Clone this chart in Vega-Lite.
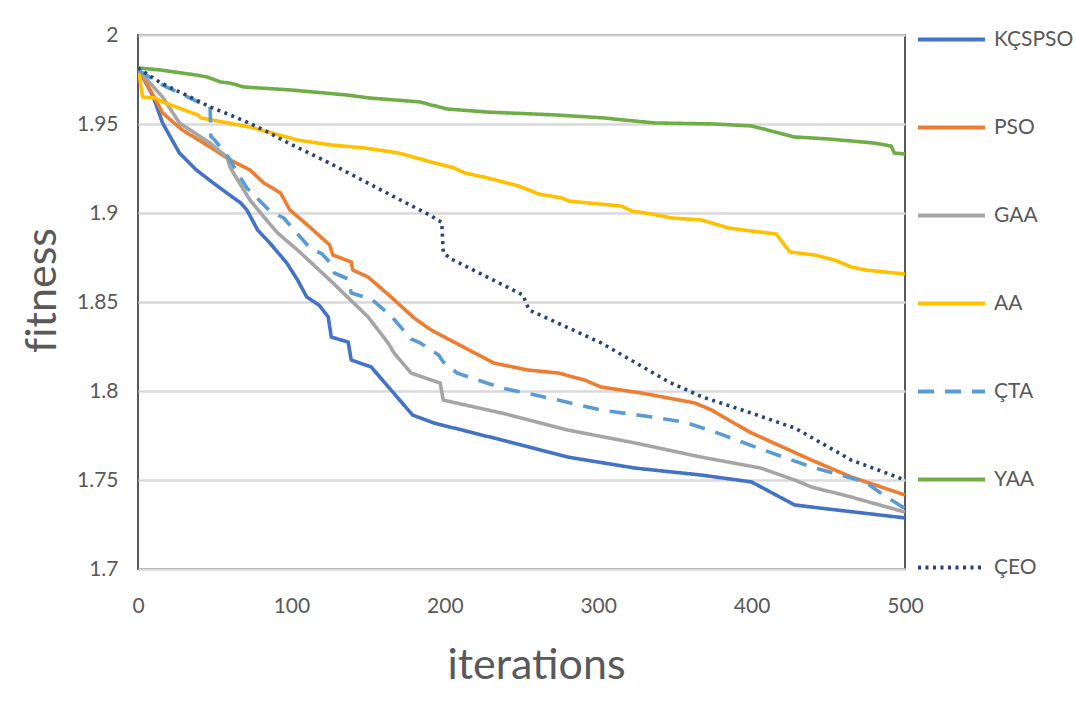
{
  "$schema": "https://vega.github.io/schema/vega-lite/v6.json",
  "width": 767,
  "height": 534,
  "autosize": {"type": "none"},
  "padding": {"left": 138, "top": 35, "right": 171, "bottom": 140},
  "background": "white",
  "config": {
    "font": "Lato",
    "view": {"stroke": "#595959", "strokeWidth": 2}
  },
  "datasets": {
    "curves": [
      {"s": "KÇSPSO", "x": 0, "y": 1.9815}, {"s": "KÇSPSO", "x": 10, "y": 1.9652}, {"s": "KÇSPSO", "x": 16, "y": 1.9506}, {"s": "KÇSPSO", "x": 27, "y": 1.9337}, {"s": "KÇSPSO", "x": 38, "y": 1.9242}, {"s": "KÇSPSO", "x": 49, "y": 1.9169}, {"s": "KÇSPSO", "x": 58, "y": 1.9112}, {"s": "KÇSPSO", "x": 67, "y": 1.9056}, {"s": "KÇSPSO", "x": 71, "y": 1.9017}, {"s": "KÇSPSO", "x": 78, "y": 1.8904}, {"s": "KÇSPSO", "x": 86, "y": 1.8831}, {"s": "KÇSPSO", "x": 97, "y": 1.8719}, {"s": "KÇSPSO", "x": 104, "y": 1.8624}, {"s": "KÇSPSO", "x": 110, "y": 1.8528}, {"s": "KÇSPSO", "x": 118, "y": 1.8483}, {"s": "KÇSPSO", "x": 124, "y": 1.8416}, {"s": "KÇSPSO", "x": 126, "y": 1.8303}, {"s": "KÇSPSO", "x": 137, "y": 1.8275}, {"s": "KÇSPSO", "x": 139, "y": 1.8174}, {"s": "KÇSPSO", "x": 152, "y": 1.8135}, {"s": "KÇSPSO", "x": 179, "y": 1.7865}, {"s": "KÇSPSO", "x": 193, "y": 1.782}, {"s": "KÇSPSO", "x": 237, "y": 1.7725}, {"s": "KÇSPSO", "x": 280, "y": 1.7629}, {"s": "KÇSPSO", "x": 324, "y": 1.7567}, {"s": "KÇSPSO", "x": 367, "y": 1.7528}, {"s": "KÇSPSO", "x": 400, "y": 1.7489}, {"s": "KÇSPSO", "x": 428, "y": 1.736}, {"s": "KÇSPSO", "x": 444, "y": 1.7343}, {"s": "KÇSPSO", "x": 500, "y": 1.7287},

      {"s": "PSO", "x": 0, "y": 1.9815}, {"s": "PSO", "x": 8, "y": 1.9691}, {"s": "PSO", "x": 16, "y": 1.9562}, {"s": "PSO", "x": 29, "y": 1.9466}, {"s": "PSO", "x": 47, "y": 1.9371}, {"s": "PSO", "x": 60, "y": 1.9298}, {"s": "PSO", "x": 73, "y": 1.9242}, {"s": "PSO", "x": 82, "y": 1.9169}, {"s": "PSO", "x": 93, "y": 1.9112}, {"s": "PSO", "x": 99, "y": 1.9017}, {"s": "PSO", "x": 112, "y": 1.8921}, {"s": "PSO", "x": 125, "y": 1.882}, {"s": "PSO", "x": 127, "y": 1.8764}, {"s": "PSO", "x": 139, "y": 1.8725}, {"s": "PSO", "x": 140, "y": 1.868}, {"s": "PSO", "x": 150, "y": 1.864}, {"s": "PSO", "x": 165, "y": 1.8528}, {"s": "PSO", "x": 180, "y": 1.841}, {"s": "PSO", "x": 191, "y": 1.8343}, {"s": "PSO", "x": 232, "y": 1.8157}, {"s": "PSO", "x": 254, "y": 1.8118}, {"s": "PSO", "x": 274, "y": 1.8101}, {"s": "PSO", "x": 291, "y": 1.8062}, {"s": "PSO", "x": 302, "y": 1.8022}, {"s": "PSO", "x": 328, "y": 1.7989}, {"s": "PSO", "x": 363, "y": 1.7933}, {"s": "PSO", "x": 374, "y": 1.7893}, {"s": "PSO", "x": 385, "y": 1.7837}, {"s": "PSO", "x": 400, "y": 1.7764}, {"s": "PSO", "x": 439, "y": 1.7612}, {"s": "PSO", "x": 465, "y": 1.7517}, {"s": "PSO", "x": 500, "y": 1.7416},

      {"s": "GAA", "x": 0, "y": 1.9815}, {"s": "GAA", "x": 3, "y": 1.9775}, {"s": "GAA", "x": 16, "y": 1.9652}, {"s": "GAA", "x": 27, "y": 1.9506}, {"s": "GAA", "x": 47, "y": 1.9393}, {"s": "GAA", "x": 58, "y": 1.9315}, {"s": "GAA", "x": 60, "y": 1.9258}, {"s": "GAA", "x": 65, "y": 1.9185}, {"s": "GAA", "x": 73, "y": 1.9073}, {"s": "GAA", "x": 82, "y": 1.8978}, {"s": "GAA", "x": 91, "y": 1.8888}, {"s": "GAA", "x": 104, "y": 1.8792}, {"s": "GAA", "x": 125, "y": 1.8624}, {"s": "GAA", "x": 150, "y": 1.8416}, {"s": "GAA", "x": 163, "y": 1.827}, {"s": "GAA", "x": 167, "y": 1.8213}, {"s": "GAA", "x": 178, "y": 1.8101}, {"s": "GAA", "x": 191, "y": 1.8062}, {"s": "GAA", "x": 197, "y": 1.8045}, {"s": "GAA", "x": 199, "y": 1.7949}, {"s": "GAA", "x": 237, "y": 1.7876}, {"s": "GAA", "x": 280, "y": 1.7781}, {"s": "GAA", "x": 324, "y": 1.7708}, {"s": "GAA", "x": 367, "y": 1.7629}, {"s": "GAA", "x": 406, "y": 1.7567}, {"s": "GAA", "x": 428, "y": 1.75}, {"s": "GAA", "x": 439, "y": 1.7461}, {"s": "GAA", "x": 465, "y": 1.7404}, {"s": "GAA", "x": 500, "y": 1.732},

      {"s": "AA", "x": 0, "y": 1.982}, {"s": "AA", "x": 3, "y": 1.9652}, {"s": "AA", "x": 11, "y": 1.9646}, {"s": "AA", "x": 16, "y": 1.9624}, {"s": "AA", "x": 39, "y": 1.9551}, {"s": "AA", "x": 41, "y": 1.9534}, {"s": "AA", "x": 73, "y": 1.9483}, {"s": "AA", "x": 104, "y": 1.941}, {"s": "AA", "x": 126, "y": 1.9382}, {"s": "AA", "x": 148, "y": 1.9365}, {"s": "AA", "x": 170, "y": 1.9337}, {"s": "AA", "x": 191, "y": 1.9287}, {"s": "AA", "x": 206, "y": 1.9253}, {"s": "AA", "x": 213, "y": 1.9225}, {"s": "AA", "x": 228, "y": 1.9197}, {"s": "AA", "x": 248, "y": 1.9152}, {"s": "AA", "x": 261, "y": 1.9107}, {"s": "AA", "x": 276, "y": 1.9085}, {"s": "AA", "x": 281, "y": 1.9067}, {"s": "AA", "x": 315, "y": 1.9039}, {"s": "AA", "x": 322, "y": 1.9011}, {"s": "AA", "x": 335, "y": 1.8994}, {"s": "AA", "x": 348, "y": 1.8972}, {"s": "AA", "x": 367, "y": 1.8961}, {"s": "AA", "x": 372, "y": 1.8949}, {"s": "AA", "x": 385, "y": 1.8916}, {"s": "AA", "x": 395, "y": 1.8904}, {"s": "AA", "x": 416, "y": 1.8882}, {"s": "AA", "x": 421, "y": 1.8826}, {"s": "AA", "x": 425, "y": 1.8781}, {"s": "AA", "x": 441, "y": 1.8764}, {"s": "AA", "x": 454, "y": 1.8736}, {"s": "AA", "x": 465, "y": 1.8697}, {"s": "AA", "x": 474, "y": 1.868}, {"s": "AA", "x": 500, "y": 1.8657},

      {"s": "ÇTA", "x": 0, "y": 1.9803}, {"s": "ÇTA", "x": 16, "y": 1.9719}, {"s": "ÇTA", "x": 39, "y": 1.9624}, {"s": "ÇTA", "x": 46, "y": 1.9607}, {"s": "ÇTA", "x": 47, "y": 1.959}, {"s": "ÇTA", "x": 47.5, "y": 1.943}, {"s": "ÇTA", "x": 50, "y": 1.941}, {"s": "ÇTA", "x": 60, "y": 1.93}, {"s": "ÇTA", "x": 64, "y": 1.9236}, {"s": "ÇTA", "x": 71, "y": 1.914}, {"s": "ÇTA", "x": 86, "y": 1.9011}, {"s": "ÇTA", "x": 95, "y": 1.8972}, {"s": "ÇTA", "x": 112, "y": 1.8804}, {"s": "ÇTA", "x": 120, "y": 1.877}, {"s": "ÇTA", "x": 126, "y": 1.8714}, {"s": "ÇTA", "x": 128, "y": 1.8663}, {"s": "ÇTA", "x": 137, "y": 1.8629}, {"s": "ÇTA", "x": 139, "y": 1.8551}, {"s": "ÇTA", "x": 152, "y": 1.8517}, {"s": "ÇTA", "x": 165, "y": 1.8422}, {"s": "ÇTA", "x": 178, "y": 1.8292}, {"s": "ÇTA", "x": 184, "y": 1.827}, {"s": "ÇTA", "x": 196, "y": 1.8202}, {"s": "ÇTA", "x": 199, "y": 1.8163}, {"s": "ÇTA", "x": 208, "y": 1.8101}, {"s": "ÇTA", "x": 237, "y": 1.8017}, {"s": "ÇTA", "x": 259, "y": 1.7978}, {"s": "ÇTA", "x": 302, "y": 1.7893}, {"s": "ÇTA", "x": 335, "y": 1.7854}, {"s": "ÇTA", "x": 356, "y": 1.7826}, {"s": "ÇTA", "x": 376, "y": 1.777}, {"s": "ÇTA", "x": 406, "y": 1.7674}, {"s": "ÇTA", "x": 439, "y": 1.7573}, {"s": "ÇTA", "x": 474, "y": 1.7489}, {"s": "ÇTA", "x": 487, "y": 1.741}, {"s": "ÇTA", "x": 500, "y": 1.734},

      {"s": "YAA", "x": 0, "y": 1.9815}, {"s": "YAA", "x": 15, "y": 1.9803}, {"s": "YAA", "x": 38, "y": 1.9775}, {"s": "YAA", "x": 45, "y": 1.9764}, {"s": "YAA", "x": 54, "y": 1.9736}, {"s": "YAA", "x": 60, "y": 1.973}, {"s": "YAA", "x": 69, "y": 1.9708}, {"s": "YAA", "x": 100, "y": 1.9691}, {"s": "YAA", "x": 136, "y": 1.9663}, {"s": "YAA", "x": 151, "y": 1.9646}, {"s": "YAA", "x": 184, "y": 1.9624}, {"s": "YAA", "x": 191, "y": 1.9607}, {"s": "YAA", "x": 202, "y": 1.9584}, {"s": "YAA", "x": 228, "y": 1.9567}, {"s": "YAA", "x": 272, "y": 1.9551}, {"s": "YAA", "x": 304, "y": 1.9534}, {"s": "YAA", "x": 317, "y": 1.9522}, {"s": "YAA", "x": 337, "y": 1.9506}, {"s": "YAA", "x": 376, "y": 1.95}, {"s": "YAA", "x": 400, "y": 1.9489}, {"s": "YAA", "x": 408, "y": 1.9472}, {"s": "YAA", "x": 418, "y": 1.9449}, {"s": "YAA", "x": 428, "y": 1.9427}, {"s": "YAA", "x": 450, "y": 1.9416}, {"s": "YAA", "x": 480, "y": 1.9393}, {"s": "YAA", "x": 491, "y": 1.9376}, {"s": "YAA", "x": 493, "y": 1.9337}, {"s": "YAA", "x": 500, "y": 1.9331},

      {"s": "ÇEO", "x": 0, "y": 1.9815}, {"s": "ÇEO", "x": 14, "y": 1.9736}, {"s": "ÇEO", "x": 27, "y": 1.968}, {"s": "ÇEO", "x": 34, "y": 1.9652}, {"s": "ÇEO", "x": 47, "y": 1.9596}, {"s": "ÇEO", "x": 60, "y": 1.9551}, {"s": "ÇEO", "x": 71, "y": 1.9511}, {"s": "ÇEO", "x": 82, "y": 1.9466}, {"s": "ÇEO", "x": 98, "y": 1.9393}, {"s": "ÇEO", "x": 125, "y": 1.928}, {"s": "ÇEO", "x": 171, "y": 1.9073}, {"s": "ÇEO", "x": 191, "y": 1.8985}, {"s": "ÇEO", "x": 195, "y": 1.8961}, {"s": "ÇEO", "x": 198, "y": 1.8949}, {"s": "ÇEO", "x": 199, "y": 1.8781}, {"s": "ÇEO", "x": 203, "y": 1.8747}, {"s": "ÇEO", "x": 251, "y": 1.8539}, {"s": "ÇEO", "x": 253, "y": 1.8494}, {"s": "ÇEO", "x": 255, "y": 1.8455}, {"s": "ÇEO", "x": 302, "y": 1.827}, {"s": "ÇEO", "x": 346, "y": 1.8051}, {"s": "ÇEO", "x": 368, "y": 1.7966}, {"s": "ÇEO", "x": 400, "y": 1.7876}, {"s": "ÇEO", "x": 428, "y": 1.7792}, {"s": "ÇEO", "x": 434, "y": 1.7764}, {"s": "ÇEO", "x": 465, "y": 1.7612}, {"s": "ÇEO", "x": 500, "y": 1.75}
    ]
  },
  "data": {"name": "curves"},
  "mark": {"type": "line", "strokeWidth": 3.6, "strokeJoin": "round", "clip": true},
  "encoding": {
    "x": {
      "field": "x", "type": "quantitative",
      "scale": {"domain": [0, 500], "nice": false},
      "axis": {
        "title": "iterations", "values": [0, 100, 200, 300, 400, 500],
        "grid": false, "ticks": false, "domain": false, "labelFlush": false,
        "labelFontSize": 21, "labelColor": "#595959", "labelPadding": 26,
        "titleFontSize": 43, "titleFontWeight": "normal", "titleColor": "#595959",
        "titleBaseline": "alphabetic", "titleY": 109, "titleX": 398
      }
    },
    "y": {
      "field": "y", "type": "quantitative",
      "scale": {"domain": [1.7, 2], "nice": false, "zero": false},
      "axis": {
        "title": "f\u200citness", "values": [1.7, 1.75, 1.8, 1.85, 1.9, 1.95, 2], "format": ".2~f",
        "grid": true, "gridColor": "#D9D9D9", "gridWidth": 2.5,
        "ticks": false, "domain": false, "labelFlush": false,
        "labelFontSize": 21, "labelColor": "#595959", "labelPadding": 20,
        "titleFontSize": 43, "titleFontWeight": "normal", "titleColor": "#595959",
        "titleBaseline": "alphabetic", "titleX": -83, "titleY": 255
      }
    },
    "color": {
      "field": "s", "type": "nominal",
      "scale": {
        "domain": ["KÇSPSO", "PSO", "GAA", "AA", "ÇTA", "YAA", "ÇEO"],
        "range": ["#4472C4", "#ED7D31", "#A5A5A5", "#FFC000", "#5B9BD5", "#70AD47", "#264478"]
      },
      "legend": {
        "title": null, "orient": "none", "legendX": 778, "legendY": -31, "padding": 0,
        "symbolType": "stroke", "symbolSize": 4489, "symbolStrokeWidth": 4,
        "labelFontSize": 21, "labelColor": "#595959", "labelOffset": 7, "rowPadding": 42
      }
    },
    "strokeDash": {
      "field": "s", "type": "nominal",
      "scale": {
        "domain": ["KÇSPSO", "PSO", "GAA", "AA", "ÇTA", "YAA", "ÇEO"],
        "range": [[1, 0], [1, 0], [1, 0], [1, 0], [16, 11], [1, 0], [3, 4.5]]
      },
      "legend": {
        "title": null, "orient": "none", "legendX": 778, "legendY": -31, "padding": 0,
        "symbolType": "stroke", "symbolSize": 4489, "symbolStrokeWidth": 4,
        "labelFontSize": 21, "labelColor": "#595959", "labelOffset": 7, "rowPadding": 42
      }
    }
  }
}
